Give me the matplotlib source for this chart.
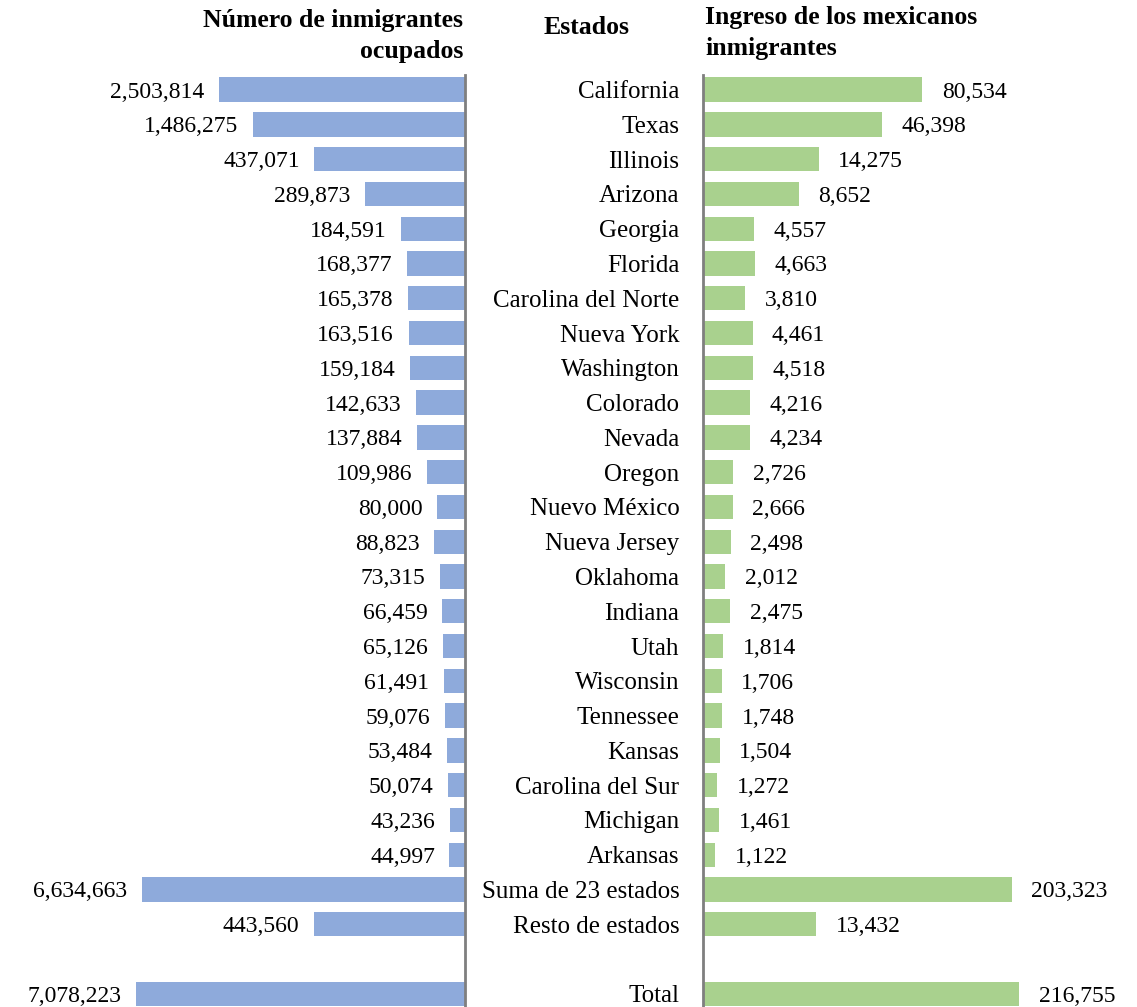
#!/usr/bin/env python
"""
Mexican immigrants in the US by state: employed workers (left) and
income (right), drawn as a back-to-back bar chart.

    python plot.py
"""

from __future__ import annotations

import matplotlib

matplotlib.use("Agg")
import matplotlib.pyplot as plt  # noqa: E402
import numpy as np  # noqa: E402

STATES = [
    "California", "Texas", "Illinois", "Arizona", "Georgia", "Florida",
    "Carolina del Norte", "Nueva York", "Washington", "Colorado", "Nevada",
    "Oregon", "Nuevo México", "Nueva Jersey", "Oklahoma", "Indiana", "Utah",
    "Wisconsin", "Tennessee", "Kansas", "Carolina del Sur", "Michigan",
    "Arkansas", "Suma de 23 estados", "Resto de estados", "Total",
]
OCUPADOS = [
    2503814, 1486275, 437071, 289873, 184591, 168377, 165378, 163516,
    159184, 142633, 137884, 109986, 80000, 88823, 73315, 66459, 65126,
    61491, 59076, 53484, 50074, 43236, 44997, 6634663, 443560, 7078223,
]
INGRESO = [
    80534, 46398, 14275, 8652, 4557, 4663, 3810, 4461, 4518, 4216, 4234,
    2726, 2666, 2498, 2012, 2475, 1814, 1706, 1748, 1504, 1272, 1461,
    1122, 203323, 13432, 216755,
]

BLUE = "#8eaadb"
GREEN = "#a9d18e"
AXIS_GREY = "#7f7f7f"

W, H = 1137, 1007  # output size in pixels (dpi 100)

plt.rcParams.update(
    {
        "font.family": ["Liberation Serif", "DejaVu Serif"],
        "font.size": 17,
        "axes.spines.top": False,
        "axes.spines.bottom": False,
    }
)


def compressed(t: float, p: float):
    """Linear up to t, then a power-law squeeze (the source chart shortens
    the very long bars instead of breaking the axis)."""

    def fwd(x):
        x = np.asarray(x, dtype=float)
        return np.where(x <= t, x, t * (np.maximum(x, t) / t) ** p)

    def inv(y):
        y = np.asarray(y, dtype=float)
        return np.where(y <= t, y, t * (np.maximum(y, t) / t) ** (1 / p))

    return fwd, inv


def main() -> None:
    pos = np.append(np.arange(len(STATES) - 1), len(STATES))  # gap before Total
    ylim = (26.38, -0.42)

    fig = plt.figure(figsize=(W / 100, H / 100), dpi=100)
    top = (H - 75) / H
    ax_l = fig.add_axes([0, 0, 465 / W, top])
    ax_r = fig.add_axes([703 / W, 0, (W - 703) / W, top])

    # left panel: employed immigrants, bars grow to the left
    fwd, inv = compressed(437071, 0.28)
    ax_l.set_xscale("function", functions=(fwd, inv))
    ax_l.set_xlim(float(inv(465 / 0.000345)), 0)
    ax_l.barh(pos, OCUPADOS, height=0.7, color=BLUE)
    for y, v in zip(pos, OCUPADOS):
        ax_l.annotate(
            f"{v:,}", (v, y), xytext=(-10.5, 0), textcoords="offset points",
            ha="right", va="center_baseline", fontsize=17,
        )
    ax_l.set_ylim(*ylim)
    ax_l.set_xticks([])
    ax_l.set_yticks([])
    ax_l.spines["left"].set_visible(False)
    ax_l.spines["right"].set_color(AXIS_GREY)
    ax_l.spines["right"].set_linewidth(2)

    # right panel: income
    fwd, inv = compressed(8652, 0.37)
    ax_r.set_xscale("function", functions=(fwd, inv))
    ax_r.set_xlim(0, float(inv((W - 703) / 0.0111)))
    ax_r.barh(pos, INGRESO, height=0.7, color=GREEN)
    for y, v in zip(pos, INGRESO):
        ax_r.annotate(
            f"{v:,}", (v, y), xytext=(14, 0), textcoords="offset points",
            ha="left", va="center_baseline", fontsize=17,
        )
    ax_r.set_ylim(*ylim)
    ax_r.set_xticks([])
    ax_r.set_yticks(pos)
    ax_r.set_yticklabels(STATES, fontsize=18, va="center_baseline")
    ax_r.tick_params(axis="y", length=0, pad=17)
    ax_r.spines["right"].set_visible(False)
    ax_r.spines["left"].set_color(AXIS_GREY)
    ax_r.spines["left"].set_linewidth(2)

    # column headers
    hdr = dict(fontsize=18.5, fontweight="bold", va="center", linespacing=1.45)
    fig.text(463 / W, 1 - 36 / H, "Número de inmigrantes\nocupados", ha="right", **hdr)
    fig.text(587 / W, 1 - 28 / H, "Estados", ha="center", **hdr)
    fig.text(705 / W, 1 - 33 / H, "Ingreso de los mexicanos\ninmigrantes", ha="left", **hdr)

    fig.savefig("out.png", dpi=100)
    plt.close(fig)


if __name__ == "__main__":
    main()
